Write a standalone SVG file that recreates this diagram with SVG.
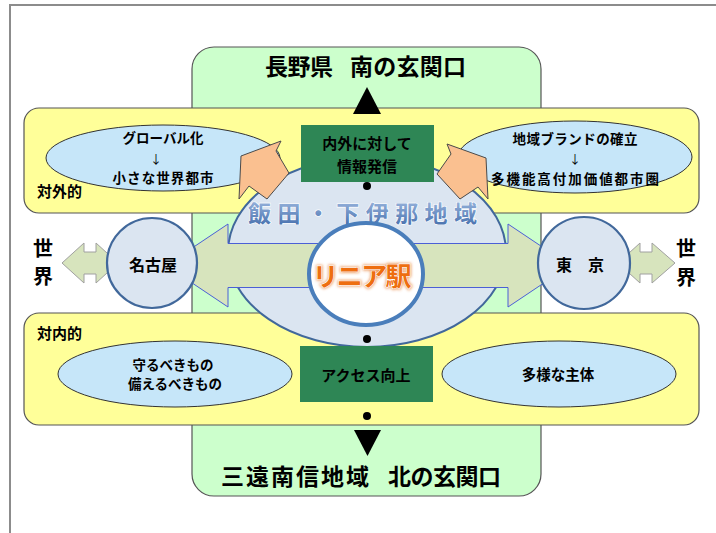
<svg xmlns="http://www.w3.org/2000/svg" width="716" height="533" viewBox="0 0 716 533">
<style>
text{font-family:"Noto Sans CJK JP","Noto Sans",sans-serif;font-weight:700;fill:#000}
.band{fill:#ffff99;stroke:#555;stroke-width:1.2}
.oval{fill:#c6e6f9;stroke:#333;stroke-width:1}
.gbox{fill:#2e8655}
.city{fill:#dbe5f1;stroke:#41689b;stroke-width:2.2}
.orange{fill:#fac090;stroke:#4a4a4a;stroke-width:1}
.side{fill:#d7e4bd;stroke:#a0a0a0;stroke-width:1}
.t13{font-size:13.5px}
.t15{font-size:15px}
.t22{font-size:23px}
.w{font-size:20px}
.arr{font-size:12px;font-weight:400}
</style>
<defs>
<linearGradient id="blueTxt" x1="0" y1="0" x2="0" y2="1">
<stop offset="0" stop-color="#a9c2e6"/>
<stop offset="1" stop-color="#3d68a8"/>
</linearGradient>
<filter id="glow" x="-20%" y="-40%" width="140%" height="180%">
<feGaussianBlur stdDeviation="1.4"/>
</filter>
</defs>
<rect x="10" y="5" width="730" height="560" fill="#fff" stroke="#8c8c8c" stroke-width="2"/>

<g id="green-zone">
<rect x="192" y="47" width="349" height="449" rx="22" fill="#ccffcc" stroke="#555" stroke-width="1.2"/>
<text class="t22" x="265" y="75" textLength="68">長野県</text>
<text class="t22" x="350" y="75" textLength="116">南の玄関口</text>
<text class="t22" x="221" y="485" textLength="148">三遠南信地域</text>
<text class="t22" x="388" y="485" textLength="113">北の玄関口</text>
</g>

<g id="band-external">
<rect class="band" x="24" y="108" width="675" height="105" rx="15"/>
<text class="t15" x="37" y="197">対外的</text>
</g>
<g id="band-internal">
<rect class="band" x="24" y="313" width="675" height="112" rx="15"/>
<text class="t15" x="37" y="339">対内的</text>
</g>

<g id="oval-global">
<ellipse class="oval" cx="163" cy="158" rx="117" ry="33"/>
<text class="t13" x="163" y="143" text-anchor="middle">グローバル化</text>
<text class="arr" x="156" y="164" text-anchor="middle">↓</text>
<text class="t13" x="163" y="183" text-anchor="middle" textLength="101">小さな世界都市</text>
</g>
<g id="oval-brand">
<ellipse class="oval" cx="575" cy="157" rx="117" ry="36"/>
<text class="t13" x="575" y="144" text-anchor="middle" textLength="125">地域ブランドの確立</text>
<text class="arr" x="575" y="164" text-anchor="middle">↓</text>
<text class="t13" x="575" y="184" text-anchor="middle" textLength="168">多機能高付加価値都市圏</text>
</g>
<g id="oval-protect">
<ellipse class="oval" cx="175" cy="374" rx="117" ry="33"/>
<text class="t13" x="173" y="370" text-anchor="middle">守るべきもの</text>
<text class="t13" x="175" y="389" text-anchor="middle">備えるべきもの</text>
</g>
<g id="oval-diverse">
<ellipse class="oval" cx="559" cy="374" rx="117" ry="33"/>
<text class="t15" x="558" y="380" text-anchor="middle" style="font-size:14.5px">多様な主体</text>
</g>

<g id="region">
<ellipse cx="367" cy="252" rx="139" ry="95" fill="#dbe5f1" stroke="#41689b" stroke-width="2"/>
</g>

<g id="box-info">
<rect class="gbox" x="301" y="125" width="133" height="57"/>
<text class="t15" x="367" y="149" text-anchor="middle">内外に対して</text>
<text class="t15" x="367" y="172" text-anchor="middle">情報発信</text>
</g>
<g id="box-access">
<rect class="gbox" x="300" y="346" width="133" height="56"/>
<text class="t15" x="366" y="381" text-anchor="middle">アクセス向上</text>
</g>

<g id="connectors">
<circle cx="367" cy="186" r="4" fill="#000"/>
<circle cx="367" cy="339" r="4" fill="#000"/>
<circle cx="367" cy="416" r="4" fill="#000"/>
<polygon points="367,87 353,114 381,114" fill="#000"/>
<polygon points="354,430 381,430 367.5,456" fill="#000"/>
<polygon class="orange" points="281,141 241,156 239,199 249,186 267,199 289,173 276,151"/>
<polygon class="orange" points="447,144 486,158 488,199 478,187 460,199 437,174 451,154"/>
<polygon points="166,265.5 228,224 228,243.5 508,243.5 508,224 570,265.5 508,307 508,287.5 228,287.5 228,307" fill="#d7e4bd" stroke="#4b5fd6" stroke-width="1"/>
<polygon class="side" points="62,263 84,243 84,252 96,252 96,243 118,263 96,283 96,274 84,274 84,283"/>
<polygon class="side" points="618,263 640,243 640,252 652,252 652,243 675,263 652,283 652,274 640,274 640,283"/>
</g>

<g id="region-label">
<text x="248" y="222" textLength="229" lengthAdjust="spacing" style="font-size:23px;fill:url(#blueTxt);stroke:#ffffff;stroke-width:1.2;paint-order:stroke">飯田・下伊那地域</text>
</g>

<g id="station">
<ellipse cx="366" cy="274" rx="57" ry="51" fill="#fff" stroke="#4a7ebb" stroke-width="4"/>
<text x="362" y="286" text-anchor="middle" textLength="99" filter="url(#glow)" style="font-size:26px;fill:#e8833a;stroke:#e8833a;stroke-width:2.5;opacity:0.8">リニア駅</text>
<text x="362" y="286" text-anchor="middle" textLength="99" style="font-size:26px;fill:#ee6e10;stroke:#ffffff;stroke-width:1.2;paint-order:stroke">リニア駅</text>
</g>

<g id="nagoya">
<circle class="city" cx="152" cy="263" r="45"/>
<text class="t15" x="153" y="271" text-anchor="middle" style="font-size:16px">名古屋</text>
</g>
<g id="tokyo">
<circle class="city" cx="584" cy="263" r="46"/>
<text class="t15" x="580" y="271" text-anchor="middle" style="font-size:16px">東　京</text>
</g>

<g id="world-left">
<text class="w" x="43" y="256" text-anchor="middle">世</text>
<text class="w" x="43" y="284" text-anchor="middle">界</text>
</g>
<g id="world-right">
<text class="w" x="686" y="256" text-anchor="middle">世</text>
<text class="w" x="686" y="285" text-anchor="middle">界</text>
</g>
</svg>
